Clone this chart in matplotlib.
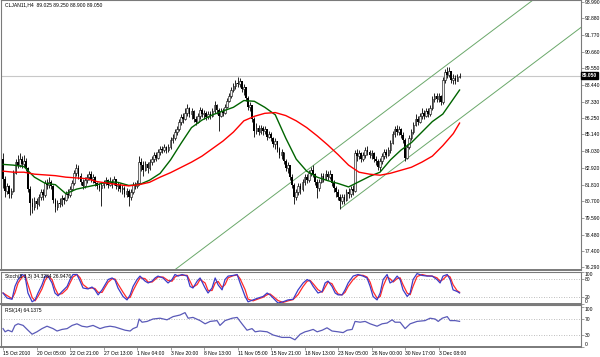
"""CLJAN11 H4 - MT4 style chart with MA, channel, Stoch and RSI."""
import matplotlib
matplotlib.use('Agg')
import matplotlib.pyplot as plt
import matplotlib.transforms as mtrans
import numpy as np
import pandas as pd

plt.rcParams['font.family'] = ['Liberation Sans Narrow', 'Liberation Sans', 'DejaVu Sans']

# ═══ H4 bars (open = previous close) ═══
first_open = 83.5
close = [
    82.2, 81.4, 81.7, 81.2, 81.4, 82.6, 83.3, 83.1, 83.5, 83.2,
    83.4, 82.9, 81.5, 80.6, 80.3, 80.7, 80.5, 81.0, 81.3, 81.1,
    81.9, 81.8, 82.0, 81.7, 80.8, 80.3, 80.6, 80.5, 80.9, 80.8,
    81.2, 81.1, 81.5, 81.9, 82.6, 82.9, 82.4, 82.0, 81.7, 82.1,
    82.3, 82.5, 82.2, 82.3, 81.9, 81.7, 81.6, 81.8, 81.9, 82.1,
    81.8, 82.0, 81.9, 82.2, 81.7, 81.8, 81.5, 81.6, 81.2, 81.4,
    81.0, 81.3, 81.8, 81.7, 81.9, 83.3, 83.1, 82.8, 83.2, 82.9,
    83.3, 83.5, 83.8, 83.6, 84.0, 84.2, 84.1, 84.3, 84.1, 84.3,
    84.8, 84.9, 85.3, 85.5, 86.0, 86.3, 86.2, 86.6, 86.9, 86.5,
    86.7, 86.2, 86.0, 86.4, 86.8, 86.5, 86.6, 86.3, 86.5, 86.4,
    86.7, 87.1, 86.8, 86.4, 86.7, 86.6, 87.0, 87.4, 87.7, 88.1,
    88.4, 88.6, 88.5, 88.7, 88.2, 88.3, 87.6, 87.0, 87.1, 86.2,
    85.4, 85.6, 85.3, 85.6, 85.4, 85.5, 85.0, 85.2, 84.9, 84.5,
    84.7, 84.2, 83.8, 84.0, 83.4, 82.9, 83.1, 82.3, 81.8, 81.0,
    81.3, 81.7, 81.5, 82.0, 82.3, 82.1, 82.6, 82.8, 82.5, 82.0,
    81.6, 82.0, 82.4, 82.2, 82.5, 82.3, 82.5, 81.9, 81.6, 81.3,
    81.0, 80.7, 81.0, 80.8, 81.3, 81.2, 81.5, 81.4, 83.9, 83.7,
    83.9, 83.5, 83.8, 84.1, 84.0, 83.8, 83.9, 83.5, 83.4, 83.0,
    83.4, 83.7, 84.0, 83.8, 84.1, 84.6, 85.2, 85.5, 85.3, 85.5,
    85.1, 84.8, 83.6, 84.3, 84.9, 85.3, 85.8, 86.2, 86.0, 86.4,
    86.6, 86.4, 86.7, 86.5, 86.9, 87.5, 87.7, 87.5, 87.7, 87.3,
    88.8, 89.3, 89.1, 89.4, 88.8, 88.9, 88.7, 89.0, 89.05,
]
high = [
    83.9, 82.4, 81.9, 81.8, 81.6, 82.8, 83.5, 83.8, 83.9, 83.7,
    83.8, 83.6, 83.0, 81.7, 80.9, 81.0, 80.9, 81.2, 81.5, 81.5,
    82.1, 82.2, 82.3, 82.1, 81.8, 80.9, 80.8, 80.9, 81.1, 81.0,
    81.4, 81.5, 81.7, 82.1, 82.8, 83.2, 83.1, 82.6, 82.2, 82.3,
    82.5, 82.7, 82.7, 82.5, 82.4, 82.0, 81.9, 82.0, 82.1, 82.3,
    82.2, 82.3, 82.2, 82.4, 82.2, 82.0, 81.9, 81.8, 81.7, 81.6,
    81.5, 81.5, 82.0, 82.0, 82.1, 83.7, 83.6, 83.4, 83.4, 83.3,
    83.5, 83.7, 84.0, 84.0, 84.2, 84.4, 84.4, 84.5, 84.4, 84.5,
    85.0, 85.2, 85.5, 85.7, 86.2, 86.5, 86.6, 86.9, 87.2, 87.0,
    86.9, 86.8, 86.4, 86.6, 87.0, 86.9, 86.8, 86.7, 86.7, 86.7,
    86.9, 87.4, 87.2, 86.9, 86.9, 86.9, 87.2, 87.6, 87.9, 88.3,
    88.6, 88.8, 88.95, 88.9, 88.7, 88.5, 88.3, 87.7, 87.3, 87.1,
    86.3, 85.9, 85.8, 85.8, 85.7, 85.7, 85.5, 85.4, 85.3, 85.0,
    84.9, 84.7, 84.3, 84.2, 84.0, 83.5, 83.3, 83.1, 82.5, 81.9,
    81.5, 81.9, 81.9, 82.2, 82.5, 82.5, 82.8, 83.0, 83.1, 82.6,
    82.2, 82.2, 82.6, 82.6, 82.8, 82.7, 82.8, 82.5, 82.1, 81.7,
    81.5, 81.2, 81.2, 81.2, 81.5, 81.6, 81.7, 81.8, 84.1, 84.2,
    84.1, 84.0, 84.0, 84.3, 84.35, 84.1, 84.1, 84.0, 83.7, 83.5,
    83.6, 83.9, 84.2, 84.2, 84.3, 84.8, 85.4, 85.7, 85.75, 85.7,
    85.6, 85.3, 84.9, 84.5, 85.1, 85.5, 86.0, 86.5, 86.4, 86.6,
    86.9, 86.8, 86.9, 86.9, 87.1, 87.7, 87.9, 87.9, 87.9, 87.8,
    89.0, 89.5, 89.6, 89.6, 89.4, 89.2, 89.1, 89.2, 89.25,
]
low = [
    81.6, 81.0, 81.2, 80.9, 80.9, 81.3, 82.5, 82.9, 83.0, 82.9,
    83.0, 82.7, 81.3, 79.8, 79.9, 80.1, 80.2, 80.4, 80.8, 80.8,
    81.0, 81.5, 81.6, 81.5, 80.6, 80.0, 80.1, 80.3, 80.4, 80.5,
    80.7, 80.9, 81.0, 81.4, 81.8, 82.4, 82.2, 81.8, 81.5, 81.6,
    81.9, 82.1, 82.0, 81.9, 81.7, 81.5, 81.4, 80.4, 81.6, 81.8,
    81.6, 81.7, 81.6, 81.8, 81.5, 81.4, 81.3, 81.2, 81.0, 81.0,
    80.4, 80.8, 81.2, 81.5, 81.6, 81.8, 82.7, 82.4, 82.7, 82.6,
    82.8, 83.1, 83.3, 83.4, 83.5, 83.8, 83.9, 84.0, 83.9, 84.0,
    84.2, 84.6, 84.8, 85.1, 85.4, 85.8, 85.9, 86.1, 86.4, 86.3,
    86.2, 86.0, 85.8, 85.9, 86.2, 86.3, 86.2, 86.1, 86.2, 86.2,
    86.3, 86.6, 86.5, 85.4, 86.3, 86.4, 86.5, 86.9, 87.3, 87.6,
    88.0, 88.2, 88.3, 88.3, 88.0, 87.8, 87.4, 86.8, 86.7, 86.0,
    85.0, 85.2, 85.1, 85.2, 85.1, 85.2, 84.8, 84.9, 84.7, 84.3,
    84.2, 84.0, 83.6, 83.5, 83.2, 82.7, 82.6, 82.1, 81.6, 80.5,
    80.8, 81.1, 81.2, 81.4, 81.8, 81.9, 82.0, 82.4, 82.3, 81.8,
    80.9, 81.4, 81.9, 82.0, 82.1, 82.1, 82.2, 81.7, 81.3, 81.0,
    80.8, 80.2, 80.5, 80.5, 80.7, 80.9, 81.0, 81.1, 81.3, 83.4,
    83.5, 83.3, 83.4, 83.6, 83.8, 83.6, 83.5, 83.3, 83.1, 82.8,
    82.7, 83.2, 83.5, 83.6, 83.7, 83.9, 84.5, 85.0, 85.1, 85.1,
    84.9, 84.6, 83.4, 83.5, 84.2, 84.8, 85.2, 85.7, 85.8, 85.9,
    86.2, 86.2, 86.3, 86.3, 86.4, 86.8, 87.3, 87.3, 87.3, 87.1,
    87.2, 88.6, 88.9, 89.0, 88.6, 88.5, 88.5, 88.7, 88.9,
]

# moving averages, read every 5 bars
ma_bar = list(range(0, 216, 5)) + [218]
ma_fast = [83.15, 83.1, 83.0, 82.3, 81.9, 81.8, 81.2, 81.5, 81.65, 81.8,
           82.0, 81.95, 81.75, 81.8, 82.1, 82.55, 83.45, 84.55, 85.6, 86.1,
           86.45, 86.7, 86.95, 87.4, 87.35, 86.95, 86.45, 84.9, 83.5, 82.7,
           82.3, 82.07, 81.88, 81.65, 82.0, 82.35, 82.63, 83.45, 84.1, 84.6,
           85.3, 86.0, 86.5, 87.5, 88.1]
ma_slow = [82.7, 82.63, 82.63, 82.5, 82.45, 82.4, 82.3, 82.25, 82.2, 82.0,
           81.9, 81.8, 81.72, 81.8, 81.96, 82.3, 82.6, 82.95, 83.3, 83.7,
           84.2, 84.7, 85.3, 86.05, 86.35, 86.55, 86.6, 86.4, 86.05, 85.6,
           85.05, 84.45, 83.8, 83.1, 82.63, 82.5, 82.43, 82.56, 82.76, 82.96,
           83.3, 83.7, 84.4, 85.2, 85.9]

# channel rays (bar, price)
chan_upper = ([70, 280], [74.87, 96.92])
chan_lower = ([161.4, 280], [80.24, 92.69])
last_price = 89.05

price_ticks = [93.99, 92.88, 91.77, 90.66, 89.55, 88.44, 87.33, 86.25, 85.14,
               84.03, 82.92, 81.81, 80.70, 79.59, 78.48, 77.40, 76.29]
date_labels = ['15 Oct 2010', '20 Oct 05:00', '22 Oct 21:00', '27 Oct 13:00',
               '1 Nov 04:00', '3 Nov 20:00', '8 Nov 13:00', '11 Nov 05:00',
               '15 Nov 21:00', '18 Nov 13:00', '23 Nov 05:00', '26 Nov 00:00',
               '30 Nov 17:00', '3 Dec 08:00']
label_step = 16

# Stochastic %K
stoch_bar = [0, 1.9, 4.3, 5.7, 7.2, 9.1, 10.5, 11.9, 13.9, 15.3,
             16.7, 18.6, 20.1, 21.5, 23.4, 24.8, 26.3, 28.2, 30.6, 32.0,
             33.4, 35.3, 36.8, 38.2, 40.6, 42.5, 43.9, 45.4, 47.3, 48.7,
             50.2, 52.1, 53.5, 54.9, 57.3, 59.2, 60.7, 62.1, 64.0, 65.4,
             67.8, 69.3, 71.2, 72.6, 74.0, 76.4, 78.8, 80.7, 82.1, 83.6,
             85.5, 87.9, 89.3, 90.7, 92.7, 94.1, 96.5, 97.9, 99.8, 101.3,
             102.7, 104.6, 106.0, 107.5, 109.8, 111.8, 113.2, 115.6, 117.0, 119.4,
             121.8, 124.2, 126.1, 127.5, 129.0, 131.3, 133.7, 136.1, 138.5, 140.9,
             143.3, 145.2, 146.6, 148.1, 150.4, 152.4, 153.8, 155.2, 157.1, 158.6,
             160.0, 161.9, 163.3, 164.8, 167.2, 169.5, 171.9, 173.8, 175.3, 176.7,
             178.6, 180.1, 181.5, 183.4, 184.8, 186.3, 188.2, 189.6, 191.0, 193.0,
             194.4, 195.8, 197.7, 200.1, 202.5, 204.9, 207.2, 208.7, 210.1, 212.1,
             213.5, 214.9, 216.8, 218]
stoch_k = [34, 18, 14, 55, 77, 93, 88, 34, 6, 12,
           34, 60, 88, 88, 66, 34, 25, 39, 55, 77,
           93, 93, 72, 50, 47, 53, 44, 28, 44, 60,
           77, 82, 75, 50, 23, 12, 28, 55, 77, 88,
           72, 66, 72, 82, 88, 82, 66, 77, 93, 88,
           93, 88, 55, 50, 72, 82, 50, 34, 50, 82,
           60, 44, 77, 88, 90, 93, 66, 23, 6, 12,
           18, 23, 34, 28, 18, 2, 6, 12, 14, 44,
           66, 77, 72, 55, 34, 39, 66, 72, 55, 34,
           28, 28, 44, 66, 88, 93, 88, 82, 55, 23,
           12, 34, 77, 93, 66, 72, 88, 77, 44, 23,
           34, 77, 96, 90, 88, 88, 77, 66, 88, 93,
           77, 44, 39, 34]

# RSI(14)
rsi_bar = [0, 1.0, 2.4, 4.3, 5.7, 7.2, 9.6, 11.9, 13.9, 16.2,
           18.6, 21.0, 23.9, 25.8, 28.2, 30.6, 33.0, 35.3, 37.7, 40.1,
           43.0, 46.3, 48.7, 51.1, 53.5, 55.9, 58.3, 60.7, 62.1, 64.0,
           65.0, 66.4, 68.8, 71.6, 75.0, 78.3, 81.2, 84.5, 86.9, 88.4,
           90.7, 94.1, 96.5, 98.9, 102.2, 103.6, 106.0, 109.4, 111.8, 114.1,
           116.5, 118.9, 120.4, 122.7, 126.1, 129.0, 133.2, 137.1, 139.4, 141.9,
           144.2, 145.7, 148.1, 150.0, 152.4, 154.7, 157.1, 160.0, 162.4, 164.3,
           166.7, 168.1, 170.5, 172.9, 175.3, 178.6, 181.0, 183.4, 185.8, 187.2,
           189.6, 192.0, 194.4, 197.7, 201.5, 203.9, 206.3, 207.8, 209.7, 212.1,
           213.5, 215.9, 218]
rsi_val = [46, 38, 42, 38, 54, 58, 54, 42, 32, 38,
           46, 52, 46, 40, 44, 46, 54, 58, 52, 50,
           54, 46, 50, 52, 50, 46, 42, 40, 46, 50,
           70, 62, 64, 70, 72, 68, 76, 80, 86, 72,
           74, 66, 58, 64, 66, 54, 66, 72, 74, 58,
           42, 46, 38, 40, 38, 30, 24, 24, 18, 32,
           38, 40, 44, 38, 42, 48, 40, 38, 36, 42,
           44, 64, 62, 64, 58, 52, 58, 60, 68, 62,
           62, 46, 58, 64, 66, 72, 70, 64, 72, 76,
           66, 66, 64.14]

FS = 3.6
GRID = '#a8a8a8'
FRAME = '#7a7a7a'

c = np.array(close)
o = np.concatenate([[first_open], c[:-1]])
h = np.maximum(np.array(high), np.maximum(o, c))
l = np.minimum(np.array(low), np.minimum(o, c))
idx = np.arange(len(c))
up = c >= o

fig = plt.figure(figsize=(6, 3.57), dpi=100)
ax = fig.add_axes([0.0017, 0.2437, 0.9667, 0.7549])
ax_st = fig.add_axes([0.0017, 0.1485, 0.9667, 0.0896])
ax_rs = fig.add_axes([0.0017, 0.028, 0.9667, 0.1176])

XL = (-0.955, 276.0)
for a in (ax, ax_st, ax_rs):
    a.set_xlim(*XL)
    a.yaxis.tick_right()
    a.tick_params(axis='y', length=2, width=0.5, pad=0.8, labelsize=FS, color=FRAME)
    a.tick_params(axis='x', length=0)
    for s in a.spines.values():
        s.set_color(FRAME)
        s.set_linewidth(0.8)
    a.spines['bottom'].set_linewidth(1.4)
    a.set_xticks([])

# ═══ price panel ═══
ax.set_ylim(76.12, 94.06)
ax.axhline(last_price, color='#c8c8c8', lw=0.8, zorder=1)
ax.plot(chan_upper[0], chan_upper[1], color='#6aa86a', lw=0.7, zorder=2)
ax.plot(chan_lower[0], chan_lower[1], color='#6aa86a', lw=0.7, zorder=2)

ax.vlines(idx, l, h, color='black', lw=0.6, zorder=3)
body_lo = np.minimum(o, c)
body_h = np.maximum(np.abs(c - o), 0.03)
ax.bar(idx[up], body_h[up], bottom=body_lo[up], width=0.8,
       facecolor='#f4f4f4', edgecolor='black', linewidth=0.4, zorder=4)
ax.bar(idx[~up], body_h[~up], bottom=body_lo[~up], width=0.8,
       color='black', linewidth=0, zorder=4)

ax.plot(ma_bar, ma_fast, color='#006400', lw=1.0, zorder=5)
ax.plot(ma_bar, ma_slow, color='#ff0000', lw=1.0, zorder=5)

ax.set_yticks(price_ticks)
ax.set_yticklabels([f'{p:.3f}' for p in price_ticks])
trans = mtrans.blended_transform_factory(ax.transAxes, ax.transData)
ax.text(1.002, last_price, f'{last_price:.3f}', transform=trans, fontsize=FS,
        color='white', va='center', ha='left', fontweight='bold',
        bbox=dict(boxstyle='square,pad=0.2', facecolor='black', edgecolor='black'))
ax.text(0.006, 0.993, 'CLJAN11,H4  89.025 89.250 88.900 89.050', transform=ax.transAxes,
        fontsize=FS, va='top', ha='left')

# ═══ stochastic ═══
ax_st.set_ylim(-1, 101)
for lev in (80, 20):
    ax_st.axhline(lev, color=GRID, lw=0.6, ls=(0, (1, 2)))
stoch_d = pd.Series(stoch_k).rolling(2, min_periods=1).mean()
ax_st.plot(stoch_bar, stoch_d, color='#ff2a2a', lw=0.9)
ax_st.plot(stoch_bar, stoch_k, color='#3c3cc8', lw=0.9)
ax_st.set_yticks([100, 80, 20, 0])
ax_st.set_yticklabels(['100', '80', '20', '0'])
st_labels = ax_st.get_yticklabels()
st_labels[0].set_va('top')
st_labels[3].set_va('bottom')
ax_st.text(0.006, 0.93, 'Stoch(5,3,3) 34.3284 26.9476', transform=ax_st.transAxes,
           fontsize=FS, va='top', ha='left')

# ═══ RSI ═══
ax_rs.set_ylim(0, 105)
for lev in (70, 30):
    ax_rs.axhline(lev, color=GRID, lw=0.6, ls=(0, (1, 2)))
ax_rs.plot(rsi_bar, rsi_val, color='#5a5ab8', lw=0.9)
ax_rs.set_yticks([100, 70, 30, 0])
ax_rs.set_yticklabels(['100', '70', '30', '0'])
rs_labels = ax_rs.get_yticklabels()
rs_labels[0].set_va('top')
rs_labels[3].set_va('bottom')
ax_rs.text(0.006, 0.93, 'RSI(14) 64.1375', transform=ax_rs.transAxes,
           fontsize=FS, va='top', ha='left')

pos = [i * label_step for i in range(len(date_labels))]
ax_rs.set_xticks(pos)
ax_rs.set_xticklabels(date_labels, ha='left', fontsize=FS)
ax_rs.tick_params(axis='x', length=2, width=0.5, pad=1, color=FRAME)

fig.savefig('out.png', dpi=100)
